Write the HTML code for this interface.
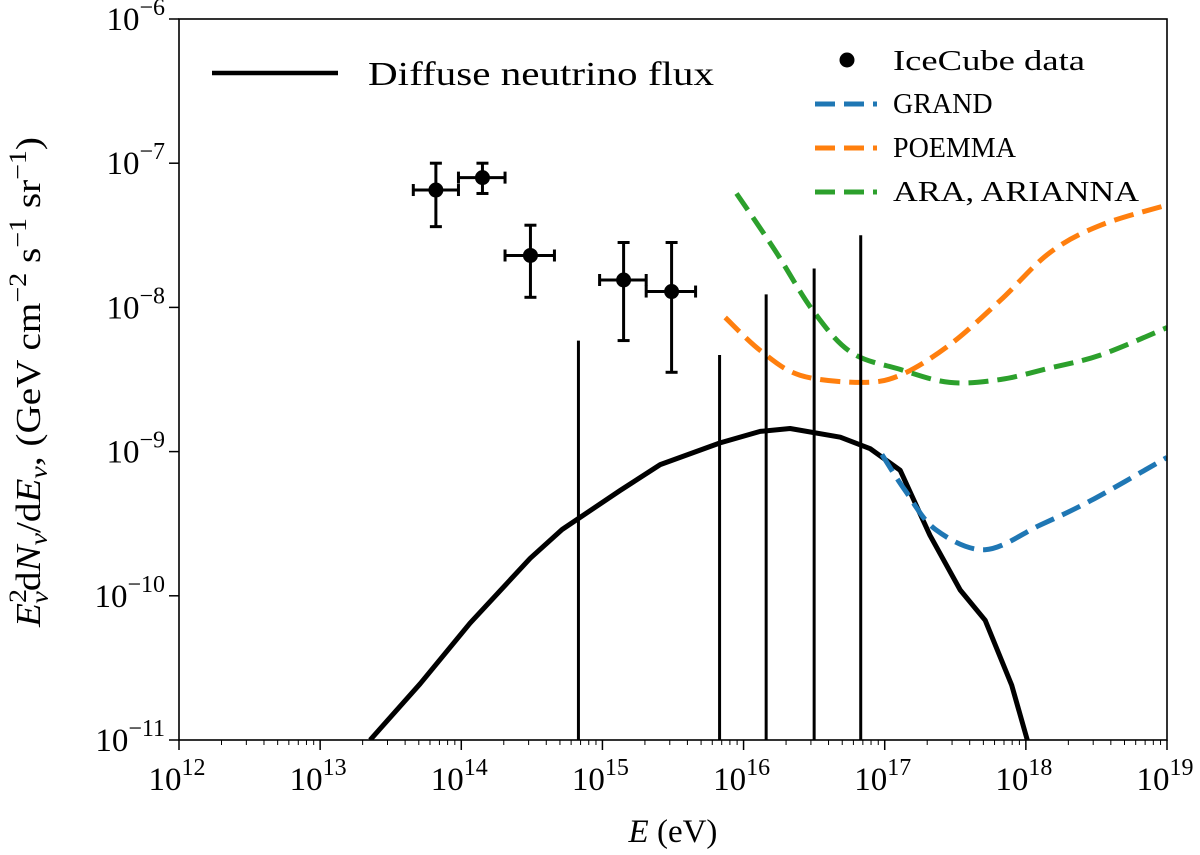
<!DOCTYPE html>
<html><head><meta charset="utf-8"><style>
body{margin:0;background:#fff}
svg{display:block;font-family:"Liberation Serif","DejaVu Serif",serif}
</style></head><body>
<svg id="chart" width="1200" height="855" viewBox="0 0 1200 855" xmlns="http://www.w3.org/2000/svg">
<g id="axes"></g>
<g id="series"></g>
<rect x="179" y="19" width="988" height="721" fill="none" stroke="#000" stroke-width="1.6"/>
<text x="673" y="842" font-size="33" text-anchor="middle"><tspan font-style="italic">E</tspan> (eV)</text>
<text transform="translate(40,382) rotate(-90) scale(1.12,1)" font-size="35" text-anchor="middle"><tspan font-style="italic">E</tspan><tspan font-size="25" dy="-14">2</tspan><tspan font-size="25" font-style="italic" dy="22" dx="-13">ν</tspan><tspan dy="-8">d</tspan><tspan font-style="italic">N</tspan><tspan font-size="25" font-style="italic" dy="7">ν</tspan><tspan dy="-7">/d</tspan><tspan font-style="italic">E</tspan><tspan font-size="25" font-style="italic" dy="7">ν</tspan><tspan dy="-7">, (GeV cm</tspan><tspan font-size="25" dy="-14">−2</tspan><tspan dy="14"> s</tspan><tspan font-size="25" dy="-14">−1</tspan><tspan dy="14"> sr</tspan><tspan font-size="25" dy="-14">−1</tspan><tspan dy="14">)</tspan></text>
<g>
<line x1="212" y1="73" x2="338" y2="73" stroke="#000" stroke-width="4.5"/>
<text x="368" y="85" font-size="34" textLength="346" lengthAdjust="spacingAndGlyphs">Diffuse neutrino flux</text>
</g>
<g>
<circle cx="847" cy="60" r="7.5" fill="#000"/>
<text x="893" y="70" font-size="28" textLength="192" lengthAdjust="spacingAndGlyphs">IceCube data</text>
<line x1="815" y1="104" x2="877" y2="104" stroke="#1f77b4" stroke-width="5" stroke-dasharray="20,9"/>
<text x="893" y="113" font-size="28">GRAND</text>
<line x1="815" y1="148" x2="877" y2="148" stroke="#ff7f0e" stroke-width="5" stroke-dasharray="20,9"/>
<text x="893" y="157" font-size="28">POEMMA</text>
<line x1="815" y1="192" x2="877" y2="192" stroke="#2ca02c" stroke-width="5" stroke-dasharray="20,9"/>
<text x="893" y="201" font-size="28" textLength="246" lengthAdjust="spacingAndGlyphs">ARA, ARIANNA</text>
</g>
</svg>
<script>
// all values are log10
const xTicks=[12,13,14,15,16,17,18,19];
const yTicks=[-6,-7,-8,-9,-10,-11];
const fluxE=[13.354,13.708,14.062,14.488,14.714,15.125,15.409,15.834,16.118,16.33,16.685,16.897,17.11,17.32,17.535,17.712,17.9,18.01];
const fluxF=[-11.0,-10.61,-10.19,-9.74,-9.54,-9.27,-9.09,-8.94,-8.86,-8.84,-8.9,-8.98,-9.13,-9.58,-9.96,-10.17,-10.62,-11.0];
const grandE=[16.98,17.145,17.36,17.71,18.1,18.46,19.0];
const grandF=[-9.02,-9.27,-9.54,-9.68,-9.51,-9.34,-9.04];
const poemmaE=[15.87,16.12,16.4,16.83,17.11,17.46,17.82,18.17,18.53,19.0];
const poemmaF=[-8.07,-8.3,-8.47,-8.52,-8.47,-8.26,-7.95,-7.62,-7.43,-7.29];
const araE=[15.95,16.22,16.49,16.76,17.11,17.46,17.82,18.17,18.53,19.0];
const araF=[-7.21,-7.6,-8.02,-8.31,-8.43,-8.52,-8.5,-8.42,-8.33,-8.14];
const iceE=[13.82,14.15,14.49,15.15,15.49];
const iceF=[-7.186,-7.1,-7.64,-7.81,-7.89];
const iceElo=[13.66,13.98,14.31,14.98,15.31];
const iceEhi=[13.98,14.31,14.66,15.31,15.66];
const iceFlo=[-7.44,-7.21,-7.93,-8.23,-8.45];
const iceFhi=[-7.0,-7.0,-7.43,-7.55,-7.55];
const limE=[14.83,15.83,16.16,16.5,16.83];
const limF=[-8.23,-8.33,-7.91,-7.73,-7.5];

const X0=179,X1=1167,Y0=19,Y1=740;
const sx=v=>X0+(v-12)/7*(X1-X0);
const sy=v=>Y0+(-6-v)/5*(Y1-Y0);
const NS='http://www.w3.org/2000/svg';
const axes=document.getElementById('axes'),ser=document.getElementById('series');
function mk(tag,attrs,parent){const e=document.createElementNS(NS,tag);for(const k in attrs)e.setAttribute(k,attrs[k]);parent.appendChild(e);return e;}
xTicks.forEach(t=>{
  const l=mk('line',{x1:sx(t),x2:sx(t),y1:Y1,y2:Y1+10,stroke:'#000','stroke-width':1.5},axes);
  
  
  if(t<19)for(let m=2;m<10;m++){const xx=sx(t+Math.log10(m));mk('line',{x1:xx,x2:xx,y1:Y1,y2:Y1+5,stroke:'#000','stroke-width':1},axes);}
  const tx=mk('text',{x:sx(t)-2,y:Y1+50,'font-size':33,'text-anchor':'middle'},axes);
  
  
  tx.innerHTML='10<tspan font-size="24" dy="-15">'+t+'</tspan>';
});
yTicks.forEach(t=>{
  const l=mk('line',{x1:X0-10,x2:X0,y1:sy(t),y2:sy(t),stroke:'#000','stroke-width':1.5},axes);
  
  
  if(t>-6)for(let m=2;m<10;m++){const yy=sy(t+Math.log10(m));mk('line',{x1:X0-5,x2:X0,y1:yy,y2:yy,stroke:'#000','stroke-width':1},axes);}
  const tx=mk('text',{x:X0-14,y:sy(t)+11,'font-size':33,'text-anchor':'end'},axes);
  
  
  tx.innerHTML='10<tspan font-size="24" dy="-15">\u2212'+Math.abs(t)+'</tspan>';
});
function line(E,F,color,dash,name,smooth){
  const P=E.map((e,i)=>[sx(e),sy(F[i])]);
  let d='M'+P[0][0].toFixed(1)+','+P[0][1].toFixed(1);
  for(let i=0;i<P.length-1;i++){
    if(!smooth){d+='L'+P[i+1][0].toFixed(1)+','+P[i+1][1].toFixed(1);continue;}
    const p0=P[i-1]||P[i],p1=P[i],p2=P[i+1],p3=P[i+2]||P[i+1];
    const c1=[p1[0]+(p2[0]-p0[0])/6,p1[1]+(p2[1]-p0[1])/6];
    const c2=[p2[0]-(p3[0]-p1[0])/6,p2[1]-(p3[1]-p1[1])/6];
    d+='C'+c1.map(v=>v.toFixed(1))+' '+c2.map(v=>v.toFixed(1))+' '+p2.map(v=>v.toFixed(1));
  }
  const p=mk('path',{d:d,fill:'none',stroke:color,'stroke-width':5,'stroke-dasharray':dash,'stroke-linejoin':'round'},ser);
  
  
}
const clip=mk('clipPath',{id:'pc'},ser);mk('rect',{x:X0,y:Y0,width:X1-X0,height:Y1-Y0},clip);
ser.setAttribute('clip-path','url(#pc)');
line(fluxE,fluxF,'#000','none','diffuse-flux-line',false);
line(grandE,grandF,'#1f77b4','20,9','grand-line',true);
line(poemmaE,poemmaF,'#ff7f0e','20,9','poemma-line',true);
line(araE,araF,'#2ca02c','20,9','ara-arianna-line',true);
limE.forEach((e,i)=>{
  const l=mk('line',{x1:sx(e),x2:sx(e),y1:Y1,y2:sy(limF[i]),stroke:'#000','stroke-width':3},ser);
  
  
});
iceE.forEach((e,i)=>{
  const g=mk('g',{},ser);
  
  
  const x=sx(e),y=sy(iceF[i]);
  mk('line',{x1:sx(iceElo[i]),x2:sx(iceEhi[i]),y1:y,y2:y,stroke:'#000','stroke-width':3},g);
  mk('line',{x1:x,x2:x,y1:sy(iceFlo[i]),y2:sy(iceFhi[i]),stroke:'#000','stroke-width':3},g);
  [sx(iceElo[i]),sx(iceEhi[i])].forEach(xx=>mk('line',{x1:xx,x2:xx,y1:y-6,y2:y+6,stroke:'#000','stroke-width':3},g));
  [sy(iceFlo[i]),sy(iceFhi[i])].forEach(yy=>mk('line',{x1:x-6,x2:x+6,y1:yy,y2:yy,stroke:'#000','stroke-width':3},g));
  mk('circle',{cx:x,cy:y,r:7.5,fill:'#000'},g);
});
</script>
</body></html>
